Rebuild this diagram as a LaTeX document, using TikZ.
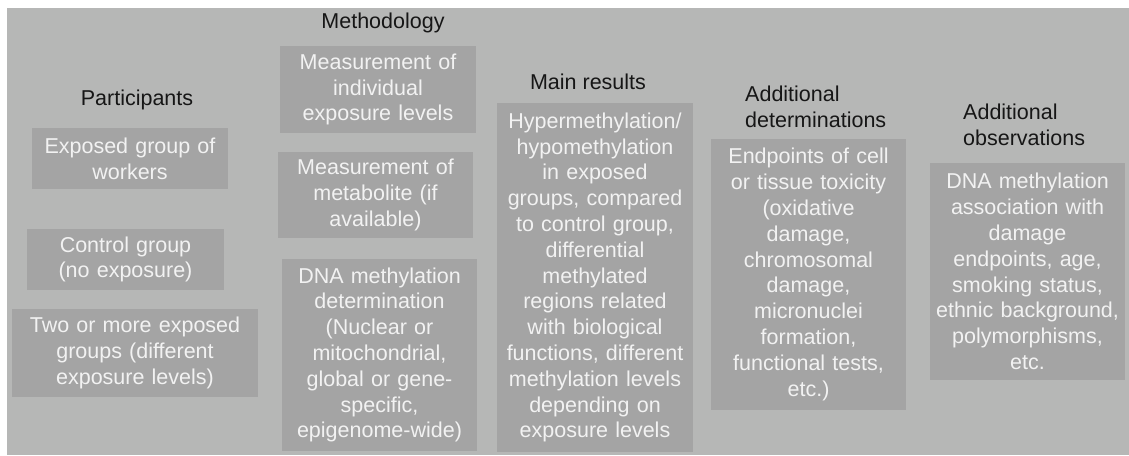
\documentclass[tikz,border=0pt]{standalone}
\usepackage{fontspec}
\setmainfont{Liberation Sans}
\definecolor{panelgray}{HTML}{B6B7B6}
\definecolor{boxgray}{HTML}{A4A4A4}
\definecolor{boxtext}{HTML}{F2F2F2}
\definecolor{headtext}{HTML}{161616}
\begin{document}
\begin{tikzpicture}[x=1pt,y=-1pt,
  every node/.style={font=\fontsize{21.5}{25.8}\selectfont},
  infobox/.style={fill=boxgray, text=boxtext, inner sep=0pt, align=center},
  colhead/.style={text=headtext, inner sep=0pt, align=center},
  colheadleft/.style={text=headtext, inner sep=0pt, align=left, anchor=west}]
  % page and panel
  \fill[white] (0,0) rectangle (1129,455);
  \fill[panelgray] (7,8) rectangle (1129,455);
  \useasboundingbox (0,0) rectangle (1129,455);

  % Participants
  \node[colhead] (hpart) at (137,100) {Participants};
  \node[infobox, minimum width=196, minimum height=61, text width=196] (p1) at (130,158.5)
    {Exposed group of\\workers};
  \node[infobox, minimum width=197, minimum height=61, text width=197] (p2) at (125.5,259.5)
    {Control group\\(no exposure)};
  \node[infobox, minimum width=246, minimum height=88, text width=246] (p3) at (135,353)
    {Two or more exposed\\groups (different\\exposure levels)};

  % Methodology
  \node[colhead] (hmeth) at (383,23) {Methodology};
  \node[infobox, minimum width=196, minimum height=87, text width=196] (m1) at (378,89.5)
    {Measurement of\\individual\\exposure levels};
  \node[infobox, minimum width=195, minimum height=86, text width=195] (m2) at (375.5,195)
    {Measurement of\\metabolite (if\\available)};
  \node[infobox, minimum width=195, minimum height=192, text width=195] (m3) at (379.5,355)
    {DNA methylation\\determination\\(Nuclear or\\mitochondrial,\\global or gene-\\specific,\\epigenome-wide)};

  % Main results
  \node[colhead] (hres) at (588,82) {Main results};
  \node[infobox, minimum width=196, minimum height=349, text width=196] (r1) at (595,277.5)
    {Hypermethylation/\\hypomethylation\\in exposed\\groups, compared\\to control group,\\differential\\methylated\\regions related\\with biological\\functions, different\\methylation levels\\depending on\\exposure levels};

  % Additional determinations
  \node[colheadleft] (hdet) at (745,106.5) {Additional\\determinations};
  \node[infobox, minimum width=195, minimum height=271, text width=195] (d1) at (808.5,274.5)
    {Endpoints of cell\\or tissue toxicity\\(oxidative\\damage,\\chromosomal\\damage,\\micronuclei\\formation,\\functional tests,\\etc.)};

  % Additional observations
  \node[colheadleft] (hobs) at (963,124.5) {Additional\\observations};
  \node[infobox, minimum width=195, minimum height=217, text width=195] (o1) at (1027.5,271.5)
    {DNA methylation\\association with\\damage\\endpoints, age,\\smoking status,\\ethnic background,\\polymorphisms,\\etc.};
\end{tikzpicture}
\end{document}
